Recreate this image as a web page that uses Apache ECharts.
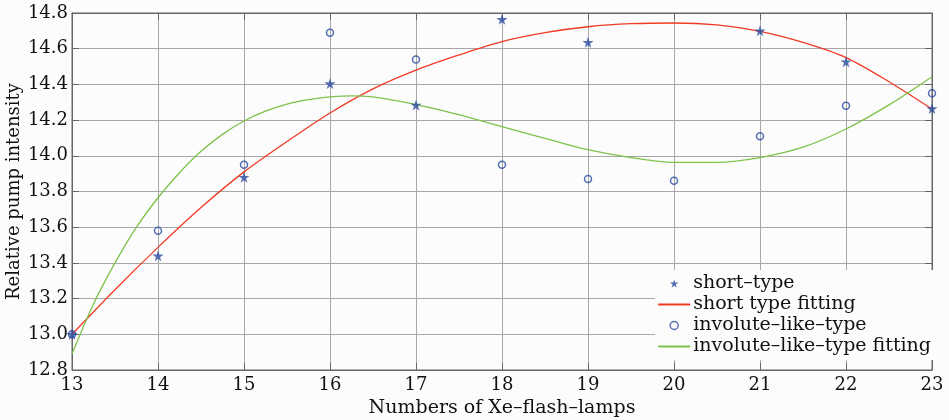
<!DOCTYPE html>
<html><head><meta charset="utf-8">
<script src="https://cdn.jsdelivr.net/npm/echarts@6/dist/echarts.min.js"></script>
<style>html,body{margin:0;padding:0;background:#fcfcfc}#c{width:949px;height:420px}</style>
</head><body><div id="c"></div>
<script>
const lamps = [13,14,15,16,17,18,19,20,21,22,23];
const shortType = [13.00,13.44,13.88,14.405,14.285,14.765,14.636,14.805,14.70,14.527,14.265];
const involuteType = [13.00,13.58,13.95,14.69,14.54,13.95,13.87,13.86,14.11,14.28,14.35];
const shortFitX = [13,13.5,14,14.5,15,15.5,16,16.5,17,17.5,18,18.5,19,19.5,20,20.5,21,21.5,22,22.5,23];
const shortFit = [13.00,13.25,13.487,13.71,13.91,14.08,14.24,14.375,14.48,14.565,14.64,14.69,14.723,14.74,14.744,14.733,14.697,14.635,14.55,14.415,14.262];
const involuteFitX = [13,13.25,13.5,13.75,14,14.25,14.5,14.75,15,15.25,15.5,15.75,16,16.25,16.5,16.75,17,17.25,17.5,18,18.5,19,19.5,20,20.5,21,21.5,22,22.5,23];
const involuteFit = [12.89,13.17,13.40,13.60,13.765,13.905,14.025,14.12,14.195,14.25,14.29,14.315,14.33,14.336,14.33,14.31,14.287,14.26,14.23,14.163,14.098,14.034,13.99,13.963,13.963,13.99,14.048,14.15,14.285,14.443];
const yTicks = [12.8,13.0,13.2,13.4,13.6,13.8,14.0,14.2,14.4,14.6,14.8];

const FONT = 'DejaVu Serif';
const pair = (xs, ys) => xs.map((x, i) => [x, ys[i]]);
const star = 'path://M50,0 L61,35 L98,35 L68,57 L79,91 L50,70 L21,91 L32,57 L2,35 L39,35 Z';
const blue = '#2a4c9f';
const red = '#f03a24';
const green = '#7dc24a';

const chart = echarts.init(document.getElementById('c'));
const gridLine = {show: true, lineStyle: {color: '#a8a8a8', width: 1}};
const frame = {show: true, lineStyle: {color: '#666'}};
const tick = {show: true, inside: true, length: 7, lineStyle: {color: '#666'}};
chart.setOption({
  backgroundColor: '#fcfcfc',
  animation: false,
  grid: {left: 72, right: 17, top: 13, bottom: 50, show: true, borderColor: '#666', borderWidth: 1,
         containLabel: false, outerBoundsMode: 'none'},
  xAxis: [{
    type: 'value', min: 13, max: 23, interval: 1,
    name: 'Numbers of Xe\u2013flash\u2013lamps', nameLocation: 'middle', nameGap: 29, nameMoveOverlap: false,
    nameTextStyle: {fontFamily: FONT, fontSize: 19, color: '#111'},
    axisLabel: {fontFamily: FONT, fontSize: 18, color: '#111', margin: 6},
    axisLine: frame, axisTick: tick, splitLine: gridLine
  }, {
    type: 'value', min: 13, max: 23, interval: 1, position: 'top',
    axisLabel: {show: false}, axisLine: frame, axisTick: tick, splitLine: {show: false}
  }],
  yAxis: [{
    type: 'value', min: 12.8, max: 14.8, interval: 0.2,
    name: 'Relative pump intensity', nameLocation: 'middle', nameGap: 49, nameRotate: 90, nameMoveOverlap: false,
    nameTextStyle: {fontFamily: FONT, fontSize: 18, color: '#111'},
    axisLabel: {fontFamily: FONT, fontSize: 18, color: '#111', margin: 4,
      formatter: v => yTicks.find(t => Math.abs(t - v) < 1e-6).toFixed(1)},
    axisLine: frame, axisTick: tick, splitLine: gridLine
  }, {
    type: 'value', min: 12.8, max: 14.8, interval: 0.2, position: 'right',
    axisLabel: {show: false}, axisLine: frame, axisTick: tick, splitLine: {show: false}
  }],
  legend: {
    orient: 'vertical', right: 16, bottom: 60,
    backgroundColor: '#fcfcfc', padding: [4, 2, 4, 2],
    itemWidth: 32, itemHeight: 8, itemGap: 2,
    textStyle: {fontFamily: FONT, fontSize: 19, lineHeight: 19, color: '#111', padding: [0, 0, 0, -2]},
    data: [
      {name: 'short\u2013type', icon: star, itemStyle: {color: blue}},
      {name: 'short type fitting', itemStyle: {opacity: 0}},
      {name: 'involute\u2013like\u2013type', icon: 'circle', itemStyle: {color: 'rgba(0,0,0,0)', borderColor: blue, borderWidth: 1.5}},
      {name: 'involute\u2013like\u2013type fitting', itemStyle: {opacity: 0}}
    ]
  },
  series: [
    {name: 'short type fitting', type: 'line', smooth: 0.3, symbol: 'none', z: 2,
     data: pair(shortFitX, shortFit), lineStyle: {color: red, width: 1.3}, itemStyle: {color: red}},
    {name: 'involute\u2013like\u2013type fitting', type: 'line', smooth: 0.3, symbol: 'none', z: 2,
     data: pair(involuteFitX, involuteFit), lineStyle: {color: green, width: 1.3}, itemStyle: {color: green}},
    {name: 'short\u2013type', type: 'scatter', symbol: star, symbolSize: 11, z: 3,
     data: pair(lamps, shortType), itemStyle: {color: blue}},
    {name: 'involute\u2013like\u2013type', type: 'scatter', symbol: 'circle', symbolSize: 7, z: 3,
     data: pair(lamps, involuteType), itemStyle: {color: 'rgba(0,0,0,0)', borderColor: blue, borderWidth: 1.5}}
  ]
});
</script></body></html>
